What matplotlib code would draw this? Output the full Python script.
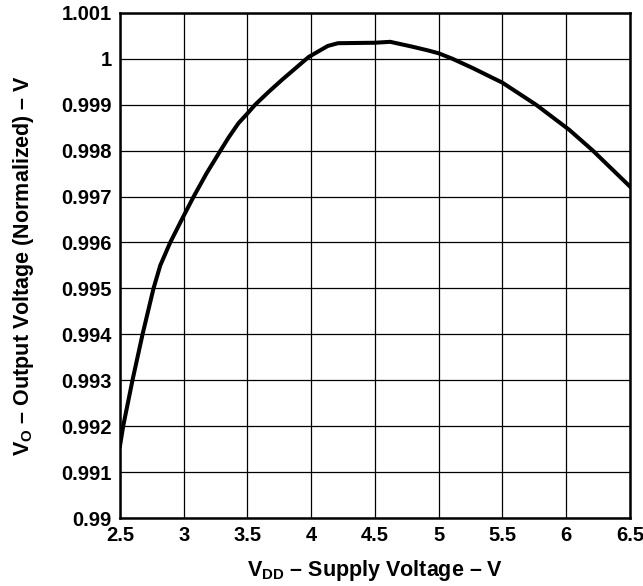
import matplotlib
matplotlib.use('Agg')
import matplotlib.pyplot as plt

# values
vdd = [2.5, 2.525, 2.598, 2.677, 2.763, 2.816, 2.894, 2.994, 3.078, 3.18,
       3.288, 3.353, 3.43, 3.5, 3.56, 3.67, 3.77, 3.98, 4.13, 4.21, 4.5,
       4.62, 4.8, 4.92, 5.0, 5.109, 5.266, 5.5, 5.764, 6.026, 6.21, 6.5]
vo = [0.99157, 0.992, 0.993, 0.994, 0.995, 0.9955, 0.996, 0.99655,
      0.997, 0.99751, 0.998, 0.99829, 0.9986, 0.99881, 0.999, 0.99929,
      0.99954, 1.00004, 1.00028, 1.00034, 1.00035, 1.00037, 1.00026,
      1.00018, 1.00012, 1.0, 0.9998, 0.99948, 0.999, 0.99845, 0.998,
      0.99722]

x_ticks = [2.5, 3, 3.5, 4, 4.5, 5, 5.5, 6, 6.5]
x_labels = ['2.5', '3', '3.5', '4', '4.5', '5', '5.5', '6', '6.5']
y_ticks = [0.99, 0.991, 0.992, 0.993, 0.994, 0.995, 0.996, 0.997, 0.998,
           0.999, 1.0, 1.001]
y_labels = ['0.99', '0.991', '0.992', '0.993', '0.994', '0.995', '0.996',
            '0.997', '0.998', '0.999', '1', '1.001']

plt.rcParams['font.family'] = ['Liberation Sans', 'DejaVu Sans']
plt.rcParams['font.weight'] = 'bold'
plt.rcParams['mathtext.fontset'] = 'custom'
plt.rcParams['mathtext.bf'] = 'Liberation Sans:bold'
plt.rcParams['mathtext.rm'] = 'Liberation Sans:bold'

fig = plt.figure(figsize=(6.43, 5.86), dpi=100)
ax = fig.add_axes([0.1866, 0.116, 0.793, 0.862])

ax.plot(vdd, vo, color='black', linewidth=2.9, solid_joinstyle='round')

ax.set_xlim(2.5, 6.5)
ax.set_ylim(0.99, 1.001)
ax.set_xticks(x_ticks)
ax.set_xticklabels(x_labels, fontsize=14.5, fontweight='bold')
ax.set_yticks(y_ticks)
ax.set_yticklabels(y_labels, fontsize=14.5, fontweight='bold')
ax.tick_params(length=0, pad=6)
ax.grid(True, color='black', linewidth=0.9)

for s in ax.spines.values():
    s.set_linewidth(1.8)

ax.set_xlabel(r'$\mathbf{V_{DD}}$ – Supply Voltage – V', fontsize=15.5,
              fontweight='bold', labelpad=9)
ax.set_ylabel(r'$\mathbf{V_{O}}$ – Output Voltage (Normalized) – V',
              fontsize=15.5, fontweight='bold', labelpad=18)

fig.savefig('out.png', dpi=100)
